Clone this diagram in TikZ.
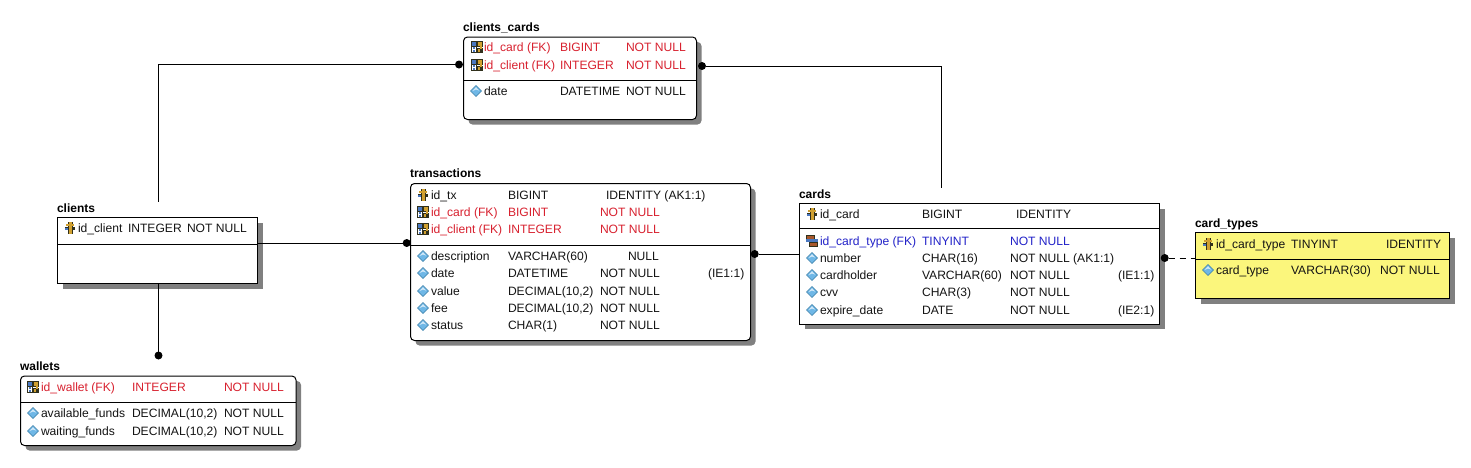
\documentclass[tikz,border=0pt]{standalone}
\usepackage{fontspec}
\setmainfont{Liberation Sans}
\definecolor{fkred}{HTML}{D8212F}
\definecolor{fkblue}{HTML}{2222C8}
\definecolor{txt}{HTML}{141414}
\definecolor{shadowgray}{HTML}{808080}
\definecolor{tableyellow}{HTML}{FBF67C}
\definecolor{diafill}{HTML}{6FB7E6}
\definecolor{diaedge}{HTML}{3C7FA8}
\definecolor{keygold}{HTML}{D0A030}
\definecolor{keydark}{HTML}{30301C}
\definecolor{keyblue}{HTML}{4A78C0}
\definecolor{keybrown}{HTML}{A8582C}
\newcounter{cellno}
\tikzset{
  x=1pt,y=-1pt,
  squarebox/.style={draw=black,line width=1pt,fill=white,inner sep=0pt,outer sep=0pt,rectangle},
  roundbox/.style={squarebox,rounded corners=4pt},
  squareshadow/.style={fill=shadowgray,draw=none,inner sep=0pt,rectangle},
  roundshadow/.style={squareshadow,rounded corners=4pt},
  cell/.style={anchor=base west,inner sep=0pt,outer sep=0pt,font=\fontsize{12.1}{14}\selectfont},
  title/.style={anchor=base west,inner sep=0pt,outer sep=0pt,font=\fontsize{12}{14}\selectfont\bfseries,text=black},
  conn/.style={draw=black,line width=1pt},
  dotend/.style={circle,fill=black,draw=none,minimum size=8pt,inner sep=0pt,outer sep=0pt},
}
% \tbl{name}{style}{fill}{x1}{y1}{x2}{y2}{divider y}
\newcommand{\tbl}[8]{%
  \pgfmathsetmacro{\tblw}{#6-#4}\pgfmathsetmacro{\tblh}{#7-#5}%
  \pgfmathsetmacro{\tcx}{(#4+#6)/2}\pgfmathsetmacro{\tcy}{(#5+#7)/2}%
  \node[#2shadow,minimum width=\tblw pt,minimum height=\tblh pt] (#1shade) at (\tcx+5,\tcy+5) {};
  \node[#2box,fill=#3,minimum width=\tblw pt,minimum height=\tblh pt] (#1) at (\tcx,\tcy) {};
  \draw[conn] (#4,#8) -- (#6,#8);
}
\newcommand{\cellat}[4]{\stepcounter{cellno}%
  \node[cell,text=#1] (cell\arabic{cellno}) at (#2,#3+4.5) {#4};}
\newcommand{\ttl}[3]{\stepcounter{cellno}%
  \node[title] (cell\arabic{cellno}) at (#1,#2+4) {#3};}
% icons
\newcommand{\icdia}[2]{\path[fill=diafill,draw=diaedge,line width=.5pt] (#1-5.5,#2) -- (#1,#2-5.5) -- (#1+5.5,#2) -- (#1,#2+5.5) -- cycle;
  \fill[white,opacity=.7] (#1-3.5,#2) -- (#1,#2-3.8) -- (#1+3,#2-.5) -- (#1,#2-1.5) -- cycle;}
\newcommand{\ickey}[2]{\fill[keydark] (#1-1.8,#2-6.5) rectangle (#1+3,#2+6);
  \fill[keygold] (#1-4.5,#2-4.5) rectangle (#1+4,#2-2);
  \fill[keydark] (#1-5,#2-1) rectangle (#1+5,#2+2);
  \fill[keygold] (#1-.6,#2-6) rectangle (#1+1.8,#2+5.5);
  \fill[keyblue] (#1-5,#2-.5) rectangle (#1-2.2,#2+2);}
\newcommand{\icfk}[2]{%
  \fill[keydark] (#1-6.5,#2-2) rectangle (#1-.5,#2+6);
  \fill[white] (#1-5.5,#2-1) rectangle (#1-1.5,#2+5);
  \fill[keyblue] (#1-4.5,#2) rectangle (#1-2.5,#2+1.5);
  \fill[keyblue] (#1-4.5,#2+3) rectangle (#1-2.5,#2+4.5);
  \fill[keydark] (#1-6.5,#2-6) rectangle (#1-.5,#2-.5);
  \fill[keyblue] (#1-5.5,#2-5) rectangle (#1-1.5,#2-1.5);
  \fill[keydark] (#1-.5,#2-6) rectangle (#1+6,#2-.5);
  \fill[keygold] (#1+.5,#2-5) rectangle (#1+5,#2-1.5);
  \fill[keydark] (#1-.5,#2+.5) rectangle (#1+6,#2+6);
  \fill[keygold] (#1+.5,#2+1.5) rectangle (#1+3,#2+5);
  \fill[keygold] (#1+3,#2-1) rectangle (#1+5,#2+2);}
\newcommand{\icfkb}[2]{\fill[keydark] (#1-6,#2-6) rectangle (#1+3,#2-1);
  \fill[keybrown] (#1-5,#2-5) rectangle (#1+2,#2-2);
  \fill[keydark] (#1-3,#2+1) rectangle (#1+6,#2+6);
  \fill[keybrown] (#1-2,#2+2) rectangle (#1+5,#2+5);
  \fill[keyblue] (#1-6,#2-2) -- (#1+6,#2-2) -- (#1+6,#2+1) -- (#1-6,#2+1) -- cycle;}
% \erow{colour}{icon}{icon x}{y}{x name}{name}{x type}{type}{xnull/null}
\def\splitnull#1/#2\relax#3#4{\cellat{#3}{#1}{#4}{#2}}
\newcommand{\erow}[9]{#2{#3}{#4}\cellat{#1}{#5}{#4}{#6}\cellat{#1}{#7}{#4}{#8}\splitnull#9\relax{#1}{#4}}
\begin{document}
\begin{tikzpicture}
\useasboundingbox (0,0) rectangle (1471,467);
\fill[white] (0,0) rectangle (1471,467);

% Tables
\tbl{clientscards}{round}{white}{463.5}{37}{696.5}{119.5}{80.5}
\tbl{transactions}{round}{white}{410.5}{183.5}{750.5}{340.5}{245.5}
\tbl{cards}{square}{white}{799.5}{203.5}{1159.5}{324}{228.5}
\tbl{cardtypes}{square}{tableyellow}{1195.5}{232.5}{1449.5}{298.5}{259.5}
\tbl{clients}{square}{white}{57.5}{217.5}{257.5}{283.5}{244.5}
\tbl{wallets}{round}{white}{20.5}{376}{296}{445.5}{402.5}

% Titles
\ttl{463}{27}{clients\_cards}
\ttl{410}{173}{transactions}
\ttl{799}{194}{cards}
\ttl{1195}{223}{card\_types}
\ttl{57}{208}{clients}
\ttl{20}{366}{wallets}

% clients_cards
\erow{fkred}{\icfk}{477}{47}{484}{id\_card (FK)}{560}{BIGINT}{626/NOT NULL}
\erow{fkred}{\icfk}{477}{65}{484}{id\_client (FK)}{560}{INTEGER}{626/NOT NULL}
\erow{txt}{\icdia}{476}{91}{484}{date}{560}{DATETIME}{626/NOT NULL}

% transactions
\erow{txt}{\ickey}{423}{195}{431}{id\_tx}{508}{BIGINT}{606/IDENTITY (AK1:1)}
\erow{fkred}{\icfk}{423}{212}{431}{id\_card (FK)}{508}{BIGINT}{600/NOT NULL}
\erow{fkred}{\icfk}{423}{229}{431}{id\_client (FK)}{508}{INTEGER}{600/NOT NULL}
\erow{txt}{\icdia}{423}{256}{431}{description}{508}{VARCHAR(60)}{628/NULL}
\erow{txt}{\icdia}{423}{273}{431}{date}{508}{DATETIME}{600/NOT NULL}
\cellat{txt}{708}{273}{(IE1:1)}
\erow{txt}{\icdia}{423}{291}{431}{value}{508}{DECIMAL(10,2)}{600/NOT NULL}
\erow{txt}{\icdia}{423}{308}{431}{fee}{508}{DECIMAL(10,2)}{600/NOT NULL}
\erow{txt}{\icdia}{423}{325}{431}{status}{508}{CHAR(1)}{600/NOT NULL}

% cards
\erow{txt}{\ickey}{812}{214}{820}{id\_card}{922}{BIGINT}{1016/IDENTITY}
\erow{fkblue}{\icfkb}{812}{241}{820}{id\_card\_type (FK)}{922}{TINYINT}{1010/NOT NULL}
\erow{txt}{\icdia}{812}{258}{820}{number}{922}{CHAR(16)}{1010/NOT NULL (AK1:1)}
\erow{txt}{\icdia}{812}{275}{820}{cardholder}{922}{VARCHAR(60)}{1010/NOT NULL}
\cellat{txt}{1118}{275}{(IE1:1)}
\erow{txt}{\icdia}{812}{292}{820}{cvv}{922}{CHAR(3)}{1010/NOT NULL}
\erow{txt}{\icdia}{812}{310}{820}{expire\_date}{922}{DATE}{1010/NOT NULL}
\cellat{txt}{1118}{310}{(IE2:1)}

% card_types
\erow{txt}{\ickey}{1208}{244}{1216}{id\_card\_type}{1291}{TINYINT}{1386/IDENTITY}
\erow{txt}{\icdia}{1208}{270}{1216}{card\_type}{1291}{VARCHAR(30)}{1380/NOT NULL}

% clients
\erow{txt}{\ickey}{70}{228}{78}{id\_client}{128}{INTEGER}{187/NOT NULL}

% wallets
\erow{fkred}{\icfk}{33}{387}{41}{id\_wallet (FK)}{132}{INTEGER}{224/NOT NULL}
\erow{txt}{\icdia}{33}{413}{41}{available\_funds}{132}{DECIMAL(10,2)}{224/NOT NULL}
\erow{txt}{\icdia}{33}{431}{41}{waiting\_funds}{132}{DECIMAL(10,2)}{224/NOT NULL}

% Connector ends
\node[dotend] (dccl) at (459,64.5) {};
\node[dotend] (dccr) at (702,66) {};
\node[dotend] (dtl) at (406.7,243) {};
\node[dotend] (dtr) at (754.7,254) {};
\node[dotend] (dwal) at (158.5,355.5) {};
\node[dotend] (dct) at (1164.7,258) {};
\coordinate (clientstop) at (158.5,201.5);
\coordinate (cardstop) at (941.5,187.5);

% Connectors
\draw[conn] (clientstop) |- (dccl);
\draw[conn] (dccr) -| (cardstop);
\draw[conn] (clients.east |- dtl) -- (dtl);
\draw[conn] (dwal |- clients.south) -- (dwal);
\draw[conn] (dtr) -- (cards.west |- dtr);
\draw[conn,dash pattern=on 6pt off 5pt] (dct) -- (cardtypes.west |- dct);
\end{tikzpicture}
\end{document}
